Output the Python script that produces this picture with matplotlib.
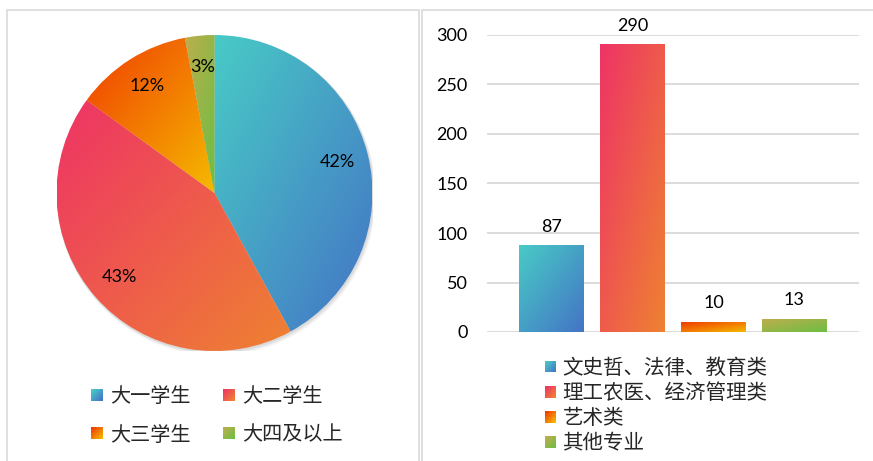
import numpy as np
import matplotlib
matplotlib.use('Agg')
import matplotlib.pyplot as plt
from matplotlib.patches import Rectangle, Circle
from matplotlib.colors import to_rgb
from matplotlib.legend_handler import HandlerBase

plt.rcParams['font.family'] = ['Lato', 'Noto Sans CJK SC', 'DejaVu Sans']

grade_labels = ['大一学生', '大二学生', '大三学生', '大四及以上']
grade_pct = [42, 43, 12, 3]
major_labels = ['文史哲、法律、教育类', '理工农医、经济管理类', '艺术类', '其他专业']
major_counts = [87, 290, 10, 13]
y_ticks = [0, 50, 100, 150, 200, 250, 300]

grad_start = ['#48CBC5', '#EE3366', '#F03C02', '#BDAE4C']
grad_end = ['#4474C6', '#EE8231', '#F5BA00', '#6CBE45']

W, H = 873, 461
fig = plt.figure(figsize=(W / 100, H / 100), dpi=100)
fig.patch.set_facecolor('white')


def grad_img(c0, c1, n=200):
    c0 = np.array(to_rgb(c0)); c1 = np.array(to_rgb(c1))
    i, j = np.mgrid[0:n, 0:n] / (n - 1)
    t = (i + j) / 2.0
    return c0[None, None, :] * (1 - t[..., None]) + c1[None, None, :] * t[..., None]


class GradHandler(HandlerBase):
    def __init__(self, c0, c1, **kw):
        super().__init__(**kw)
        self.c0 = np.array(to_rgb(c0)); self.c1 = np.array(to_rgb(c1))

    def create_artists(self, legend, orig_handle, xdescent, ydescent,
                       width, height, fontsize, trans):
        s = min(width, height * 1.1)
        x0 = -xdescent + (width - s) / 2
        y0 = -ydescent + (height - s) / 2
        n = 8
        arts = []
        for a in range(n):
            for b in range(n):
                t = (a + (n - 1 - b)) / (2 * (n - 1))
                col = self.c0 * (1 - t) + self.c1 * t
                r = Rectangle((x0 + a * s / n, y0 + b * s / n), s / n * 1.02, s / n * 1.02,
                              facecolor=col, edgecolor='none', transform=trans)
                arts.append(r)
        return arts


# panel borders (figure pixel coords)
for (x0, x1) in [(7, 419), (422, 880)]:
    fig.patches.append(Rectangle((x0 / W, -0.05), (x1 - x0) / W, 1.05 - 10 / H,
                                 transform=fig.transFigure, fill=False,
                                 edgecolor='#D9D9D9', lw=1.2))

# ---------------- pie ----------------
cx, cy, r = 214.5, 193, 158
axp = fig.add_axes([(cx - r) / W, 1 - (cy + r) / H, 2 * r / W, 2 * r / H])
# soft shadow
for k, a in [(5, 0.04), (3.5, 0.05), (2, 0.06)]:
    axp.add_patch(Circle((k / r * 0.4, -k / r * 0.6), 1.0 + k / r * 0.3, color='black',
                         alpha=a, zorder=0, lw=0))
wedges, texts, autotexts = axp.pie(grade_pct, startangle=90, counterclock=False,
                                   autopct='%d%%', pctdistance=0.8, radius=1,
                                   wedgeprops=dict(linewidth=0),
                                   textprops=dict(fontsize=13, color='black'))
for w, c0, c1 in zip(wedges, grad_start, grad_end):
    ext = w.get_path().get_extents()
    w.set_facecolor('none')
    im = axp.imshow(grad_img(c0, c1), extent=(ext.x0, ext.x1, ext.y0, ext.y1),
                    origin='upper', zorder=1, interpolation='bilinear')
    im.set_clip_path(w)
for t in autotexts:
    t.set_zorder(5)
axp.set_xlim(-1, 1); axp.set_ylim(-1, 1)
axp.set_aspect('auto')
axp.axis('off')

h1 = [Rectangle((0, 0), 1, 1) for _ in grade_labels]
hmap1 = {h: GradHandler(a, b) for h, a, b in zip(h1, grad_start, grad_end)}
order = [0, 2, 1, 3]  # row-wise filling in a 2-column legend
leg1 = fig.legend([h1[i] for i in order], [grade_labels[i] for i in order],
                  loc='upper left', bbox_to_anchor=(91 / W, 1 - 386 / H),
                  ncol=2, frameon=False, fontsize=14.5, handlelength=0.6, handleheight=0.6,
                  handletextpad=0.35, columnspacing=1.6, labelspacing=0.98,
                  borderpad=0, borderaxespad=0, handler_map=hmap1)
for t in leg1.get_texts():
    t.set_color('#262626')

# ---------------- bars ----------------
axb = fig.add_axes([487 / W, 1 - 332 / H, 372 / W, 297 / H])
x = np.arange(len(major_counts))
bw = 0.8
bars = axb.bar(x, major_counts, width=bw, color='none', zorder=2)
for xi, v, c0, c1 in zip(x, major_counts, grad_start, grad_end):
    axb.imshow(grad_img(c0, c1), extent=(xi - bw / 2, xi + bw / 2, 0, v), origin='upper',
               aspect='auto', zorder=2, interpolation='bilinear')
    axb.annotate(str(v), (xi, v), xytext=(0, 8), textcoords='offset points',
                 ha='center', va='bottom', fontsize=13, color='black')
for yt in y_ticks:
    axb.axhline(yt, color='#D9D9D9', lw=1.3, zorder=0)
axb.set_xlim(-0.8, 3.8)
axb.set_ylim(0, 300)
axb.set_yticks(y_ticks)
axb.set_xticks([])
axb.tick_params(axis='y', length=0, pad=14, labelsize=13, labelcolor='black')
for s in axb.spines.values():
    s.set_visible(False)
axb.patch.set_alpha(0)

h2 = [Rectangle((0, 0), 1, 1) for _ in major_labels]
leg2 = fig.legend(h2, major_labels, loc='upper left', bbox_to_anchor=(545 / W, 1 - 358 / H),
                  ncol=1, frameon=False, fontsize=14.8, handlelength=0.55, handleheight=0.55,
                  handletextpad=0.3, labelspacing=0.25, borderpad=0, borderaxespad=0,
                  handler_map={h: GradHandler(a, b) for h, a, b in zip(h2, grad_start, grad_end)})
for t in leg2.get_texts():
    t.set_color('#262626')

fig.savefig('out.png', dpi=100)
